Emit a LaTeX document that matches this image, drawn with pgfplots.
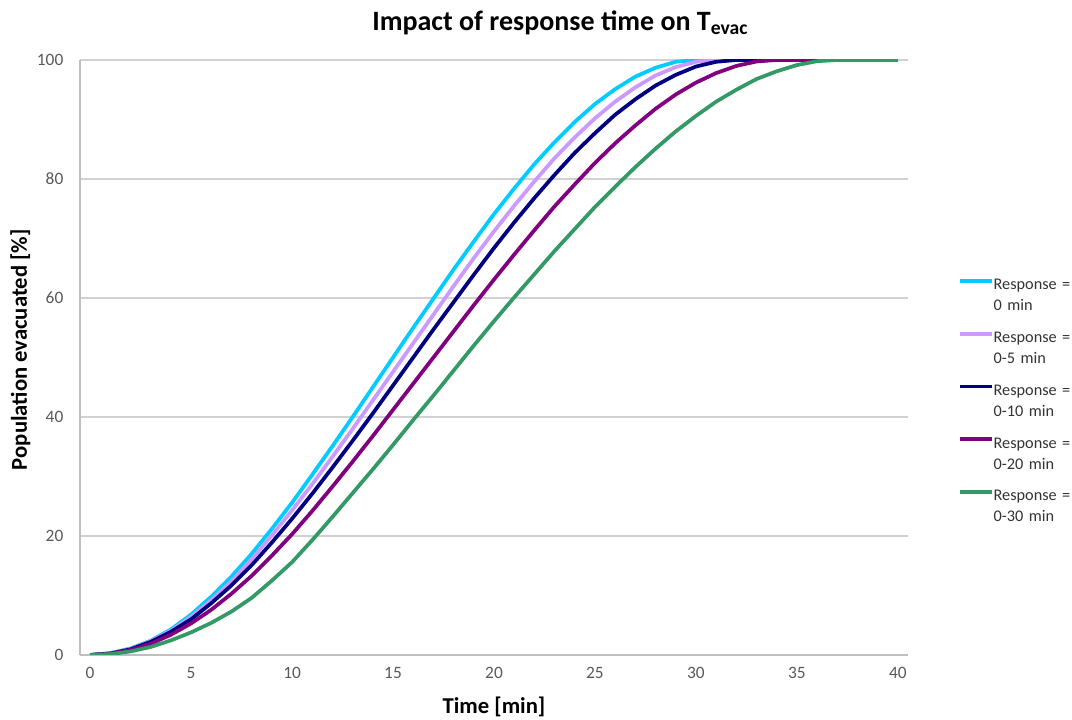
\documentclass[border=0pt]{standalone}
\usepackage{fontspec}
\setmainfont{Carlito}
\usepackage{pgfplots}
\pgfplotsset{compat=1.18}
\definecolor{cCyan}{HTML}{00CCFF}
\definecolor{cLav}{HTML}{CC99FF}
\definecolor{cNavy}{HTML}{000080}
\definecolor{cPurp}{HTML}{800080}
\definecolor{cGreen}{HTML}{339966}
\definecolor{tickgray}{HTML}{595959}
\begin{document}
\begin{tikzpicture}
\path[use as bounding box] (-60pt,-48.75pt) rectangle (744pt,491.25pt);
\begin{axis}[
  scale only axis,
  width=621pt, height=446.25pt,
  xmin=-0.5, xmax=40.5, ymin=0, ymax=100,
  xtick={0,5,...,40}, ytick={0,20,...,100},
  axis lines*=left,
  axis line style={draw=black!25, line width=0.8pt},
  major tick length=0pt,
  ymajorgrids,
  grid style={draw=black!18, line width=0.8pt},
  tick label style={font=\fontsize{13}{16}\selectfont, text=tickgray},
  /pgf/number format/assume math mode=true,
  yticklabel style={xshift=-9pt},
  xticklabel style={yshift=-6pt},
  title={Impact of response time on T\textsubscript{evac}},
  title style={font=\bfseries\fontsize{21}{25}\selectfont, at={(axis description cs:0.58,1.049)}, anchor=center},
  xlabel={Time [min]},
  ylabel={Population evacuated [\%]},
  every axis x label/.style={at={(axis description cs:0.5,-0.087)}, anchor=center, font=\bfseries\fontsize{17}{20}\selectfont},
  every axis y label/.style={at={(axis description cs:-0.072,0.513)}, rotate=90, anchor=center, font=\bfseries\fontsize{17}{20}\selectfont},
  legend style={at={(axis description cs:1.060,0.632)}, anchor=north west, draw=none, fill=none,
    font=\fontsize{12.2}{15.75}\selectfont, row sep=30pt, inner sep=0pt,
    nodes={text width=62pt, align=left, inner sep=0pt, text=black!80}},
  legend cell align=left,
  legend image code/.code={\draw[#1] (0pt,3.5pt) -- (24pt,3.5pt);},
  every axis plot/.append style={line width=2.8pt, line join=round},
]
\addplot[color=cCyan] coordinates {
(0,0) (1,0.3) (2,1.1) (3,2.4) (4,4.3) (5,6.8) (6,9.8) (7,13.2) (8,17.0) (9,21.2)
(10,25.6) (11,30.3) (12,35.1) (13,40.0) (14,45.0) (15,50.0) (16,55.0) (17,59.9) (18,64.8) (19,69.5)
(20,74.1) (21,78.4) (22,82.5) (23,86.2) (24,89.6) (25,92.6) (26,95.1) (27,97.2) (28,98.7) (29,99.7)
(30,100) (31,100) (32,100) (33,100) (34,100) (35,100) (36,100) (37,100) (38,100) (39,100) (40,100)};
\addlegendentry{Response =\\0 min}
\addplot[color=cLav] coordinates {
(0,0) (1,0.3) (2,1.0) (3,2.3) (4,4.1) (5,6.4) (6,9.2) (7,12.4) (8,16.1) (9,20.1)
(10,24.3) (11,28.7) (12,33.3) (13,38.0) (14,42.8) (15,47.6) (16,52.4) (17,57.2) (18,62.0) (19,66.7)
(20,71.2) (21,75.5) (22,79.6) (23,83.5) (24,87.0) (25,90.2) (26,93.0) (27,95.4) (28,97.4) (29,98.8)
(30,99.7) (31,100) (32,100) (33,100) (34,100) (35,100) (36,100) (37,100) (38,100) (39,100) (40,100)};
\addlegendentry{Response =\\0-5 min}
\addplot[color=cNavy] coordinates {
(0,0) (1,0.25) (2,0.95) (3,2.2) (4,3.9) (5,6.0) (6,8.7) (7,11.7) (8,15.1) (9,18.9)
(10,22.9) (11,27.1) (12,31.5) (13,36.0) (14,40.6) (15,45.3) (16,50.0) (17,54.7) (18,59.3) (19,63.9)
(20,68.4) (21,72.7) (22,76.8) (23,80.7) (24,84.4) (25,87.7) (26,90.8) (27,93.4) (28,95.7) (29,97.5)
(30,98.9) (31,99.7) (32,100) (33,100) (34,100) (35,100) (36,100) (37,100) (38,100) (39,100) (40,100)};
\addlegendentry{Response =\\0-10 min}
\addplot[color=cPurp] coordinates {
(0,0) (1,0.2) (2,0.85) (3,1.9) (4,3.4) (5,5.3) (6,7.6) (7,10.3) (8,13.3) (9,16.7)
(10,20.3) (11,24.2) (12,28.3) (13,32.5) (14,36.8) (15,41.2) (16,45.6) (17,50.0) (18,54.4) (19,58.8)
(20,63.1) (21,67.3) (22,71.4) (23,75.4) (24,79.1) (25,82.7) (26,86.0) (27,89.0) (28,91.8) (29,94.2)
(30,96.2) (31,97.8) (32,99.0) (33,99.75) (34,100) (35,100) (36,100) (37,100) (38,100) (39,100) (40,100)};
\addlegendentry{Response =\\0-20 min}
\addplot[color=cGreen] coordinates {
(0,0) (1,0.15) (2,0.6) (3,1.35) (4,2.45) (5,3.8) (6,5.4) (7,7.3) (8,9.6) (9,12.5)
(10,15.6) (11,19.3) (12,23.2) (13,27.2) (14,31.2) (15,35.3) (16,39.5) (17,43.6) (18,47.8) (19,52.0)
(20,56.1) (21,60.1) (22,64.0) (23,67.9) (24,71.6) (25,75.3) (26,78.7) (27,82.0) (28,85.1) (29,88.0)
(30,90.6) (31,93.0) (32,95.0) (33,96.8) (34,98.1) (35,99.15) (36,99.8) (37,100) (38,100) (39,100) (40,100)};
\addlegendentry{Response =\\0-30 min}
\end{axis}
\end{tikzpicture}
\end{document}
